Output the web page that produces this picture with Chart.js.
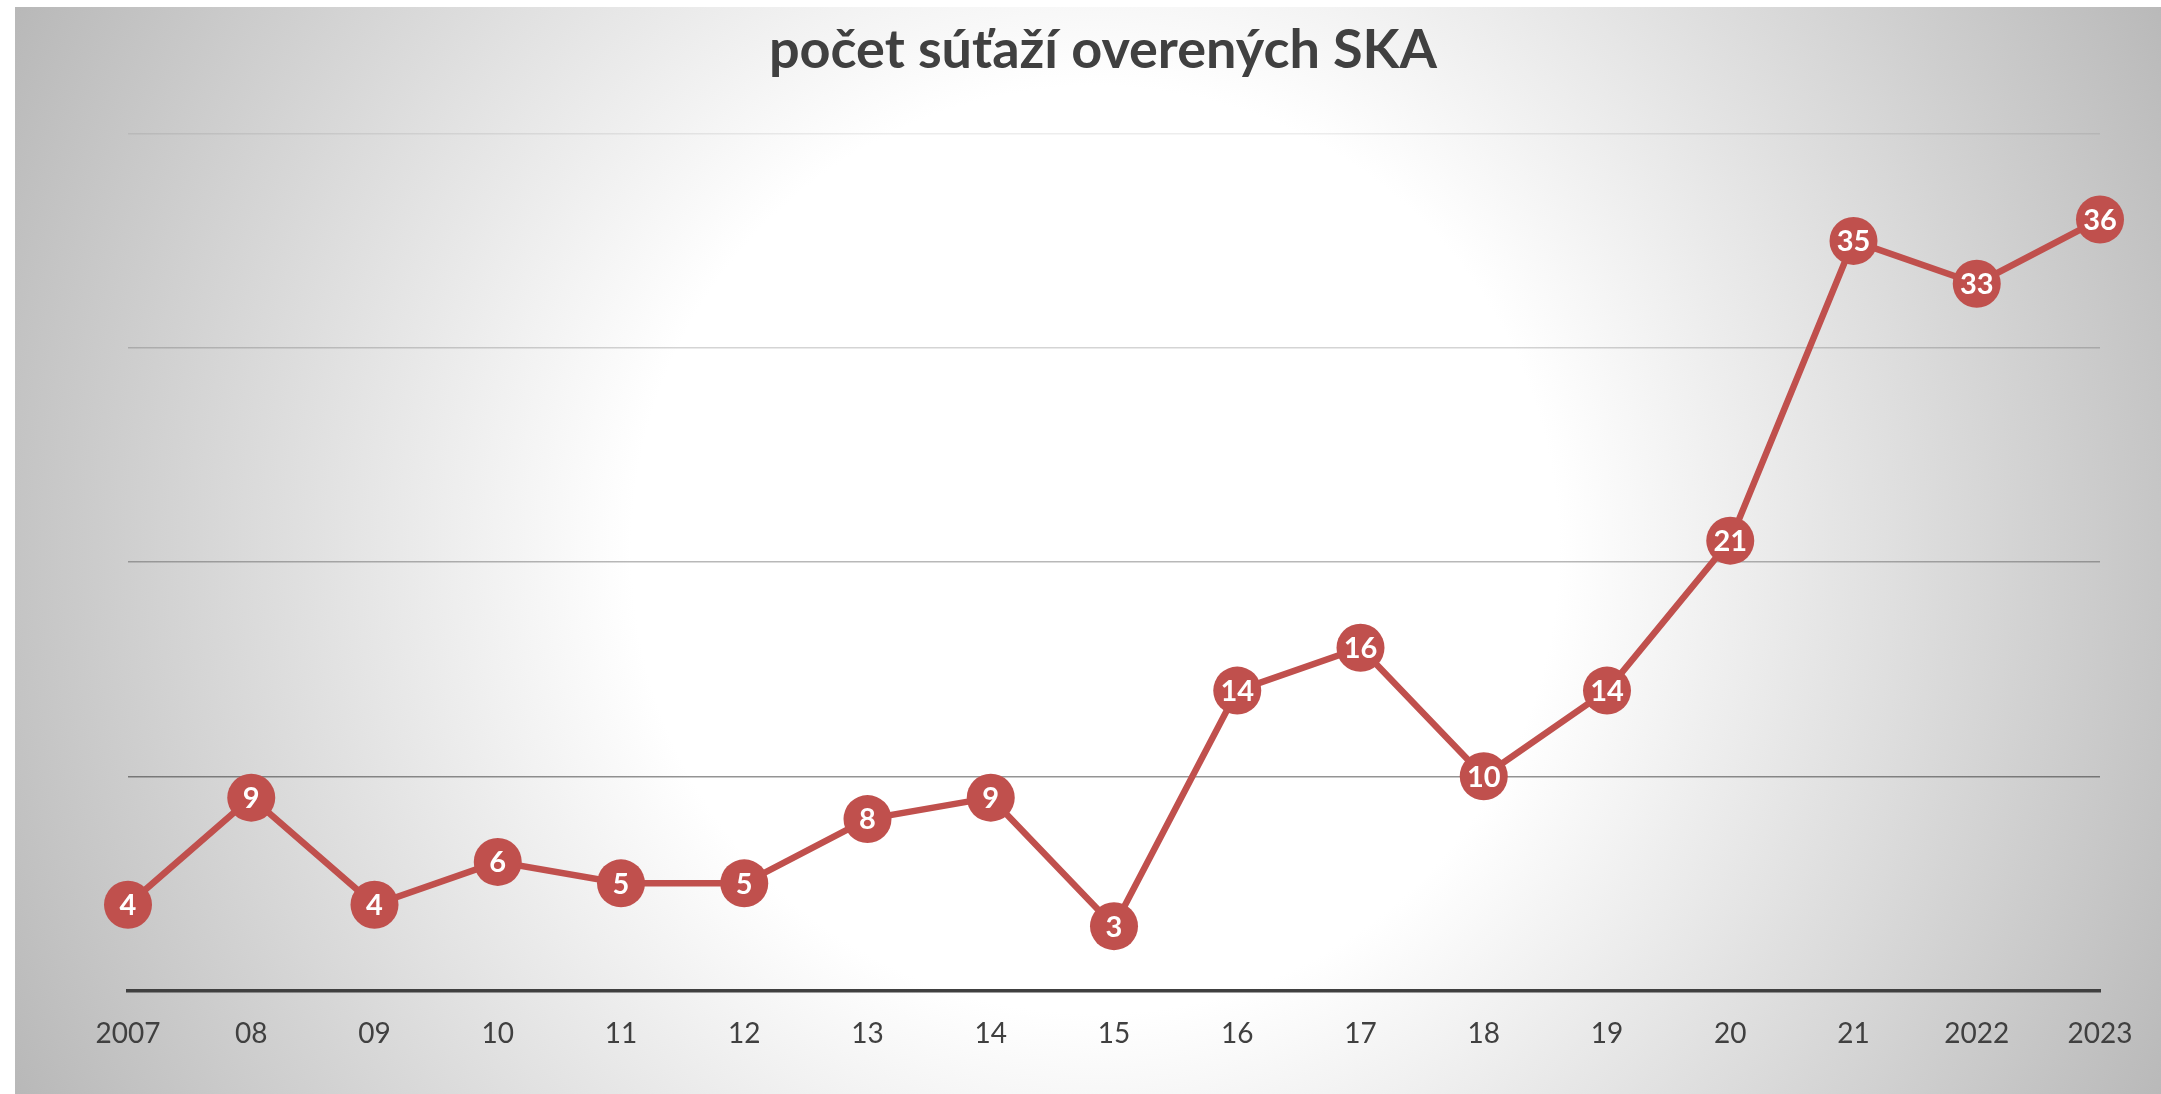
<!DOCTYPE html>
<html>
<head>
<meta charset="utf-8">
<script src="https://cdn.jsdelivr.net/npm/chart.js@4.4.1/dist/chart.umd.min.js"></script>
<style>
  html, body { margin: 0; padding: 0; background: #ffffff; }
  #wrap { width: 2161px; height: 1094px; }
</style>
</head>
<body>
<div id="wrap"><canvas id="c" width="2161" height="1094"></canvas></div>
<script>
const categories = ['2007','08','09','10','11','12','13','14','15','16','17','18','19','20','21','2022','2023'];
const seriesValues = [4, 9, 4, 6, 5, 5, 8, 9, 3, 14, 16, 10, 14, 21, 35, 33, 36];
const yTicks = [0, 10, 20, 30, 40];
const titleText = 'počet súťaží overených SKA';

const RED = '#c0504d';
const gridAlpha = {0: 0, 10: 0.42, 20: 0.28, 30: 0.17, 40: 0.07};

const bgPlugin = {
  id: 'bg',
  beforeDraw(chart) {
    const ctx = chart.ctx;
    ctx.save();
    ctx.fillStyle = '#ffffff';
    ctx.fillRect(0, 0, chart.width, chart.height);
    const cx = 1095, cy = 550, R = 1220;
    const g = ctx.createRadialGradient(cx, cy, 0, cx, cy, R);
    g.addColorStop(0, '#ffffff');
    g.addColorStop(0.38, '#ffffff');
    g.addColorStop(1, '#b7b7b7');
    ctx.fillStyle = g;
    ctx.fillRect(15, 7, chart.width - 15, chart.height - 7);
    ctx.restore();
  }
};

const valueLabels = {
  id: 'valueLabels',
  afterDatasetsDraw(chart) {
    const ctx = chart.ctx;
    const meta = chart.getDatasetMeta(0);
    ctx.save();
    ctx.fillStyle = '#ffffff';
    ctx.font = 'bold 29px Lato';
    ctx.textAlign = 'center';
    ctx.textBaseline = 'middle';
    meta.data.forEach((pt, i) => {
      ctx.fillText(String(chart.data.datasets[0].data[i]), pt.x, pt.y + 1);
    });
    ctx.restore();
  }
};

new Chart(document.getElementById('c'), {
  type: 'line',
  data: {
    labels: categories,
    datasets: [{
      data: seriesValues,
      borderColor: RED,
      borderWidth: 6.5,
      backgroundColor: RED,
      pointBackgroundColor: RED,
      pointBorderWidth: 0,
      pointRadius: 24,
      pointHoverRadius: 24,
      tension: 0,
      clip: false
    }]
  },
  options: {
    responsive: false,
    animation: false,
    devicePixelRatio: 1,
    events: [],
    layout: { padding: { left: 106, right: 61, top: 0, bottom: 16 } },
    plugins: {
      legend: { display: false },
      tooltip: { enabled: false },
      title: {
        display: true,
        text: titleText,
        color: '#404040',
        font: { family: 'Lato', weight: 'bold', size: 54, lineHeight: 1.2 },
        padding: { top: 18, bottom: 51 }
      }
    },
    scales: {
      x: {
        type: 'category',
        offset: false,
        grid: { display: false, drawTicks: false },
        border: { display: true, color: '#404040', width: 3.5 },
        ticks: {
          color: '#404040',
          font: { family: 'Lato', size: 28, lineHeight: 1.2 },
          padding: 27,
          autoSkip: false,
          maxRotation: 0
        }
      },
      y: {
        min: 0,
        max: 40,
        afterBuildTicks(scale) { scale.ticks = yTicks.map(v => ({ value: v })); },
        afterFit(scale) { scale.width = 22; },
        grid: {
          drawTicks: false,
          lineWidth: 1.5,
          color: (c) => 'rgba(0,0,0,' + (gridAlpha[c.tick ? c.tick.value : 0] || 0) + ')'
        },
        border: { display: false },
        ticks: { display: false }
      }
    }
  },
  plugins: [bgPlugin, valueLabels]
});
</script>
</body>
</html>
